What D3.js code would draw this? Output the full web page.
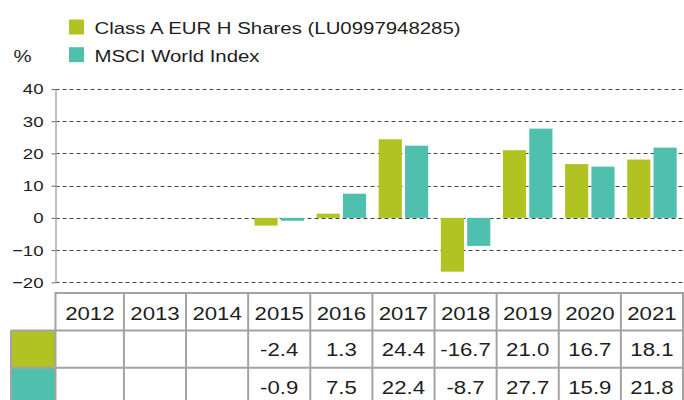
<!DOCTYPE html>
<html>
<head>
<meta charset="utf-8">
<script src="https://cdn.jsdelivr.net/npm/d3@7"></script>
<style>
    body { margin: 0; background: #fff; }
    svg { display: block; font-family: "Liberation Sans", Arial, sans-serif; }
</style>
</head>
<body>
<div id="chart"></div>
<script>
"use strict";

// data
const years = ["2012", "2013", "2014", "2015", "2016", "2017", "2018", "2019", "2020", "2021"];
const seriesNames = ["Class A EUR H Shares (LU0997948285)", "MSCI World Index"];
const classA = [null, null, null, -2.4, 1.3, 24.4, -16.7, 21.0, 16.7, 18.1];
const msciWorld = [null, null, null, -0.9, 7.5, 22.4, -8.7, 27.7, 15.9, 21.8];
const yTicks = [-20, -10, 0, 10, 20, 30, 40];
const seriesColors = ["#b0c322", "#4fbfae"];



// setting
const setting = {
    width: 684,
    height: 400,
    axisX: 55.5,
    plotLeft: 61.8,
    plotRight: 683,
    plotTop: 89,
    plotBottom: 282.3,
    tableTop: 293,
    rowHeight: 37.4,
    legendCellLeft: 11,
    borderColor: "#a3a3a3",
    stretch: 1.2,
    textColor: "#1e1e1e"
};



// data re arrange
const series = [classA, msciWorld];
const rows = years.map((y, i) => ({year: y, values: series.map(s => s[i])}));



// the source type is a wide grotesque; stretch the text horizontally
function placeText(sel, x, y) {
    sel.attr("x", 0)
    .attr("y", 0)
    .attr("transform", `translate(${x}, ${y}) scale(${setting.stretch}, 1)`);
    return sel;
}



// svg
let svg = d3.select("#chart")
.append("svg")
.attr("width", setting.width)
.attr("height", setting.height);



// legend
let legend = svg.append("g").attr("class", "legend");
seriesNames.forEach((name, i) => {
    legend.append("rect")
    .attr("x", 69)
    .attr("y", 19.5 + i * 27.7)
    .attr("width", 15)
    .attr("height", 15)
    .attr("fill", seriesColors[i]);
    legend.append("text")
    .call(placeText, 94.5, 34 + i * 27.7)
    .attr("font-size", 17)
    .attr("fill", setting.textColor)
    .text(name);
});

svg.append("text")
.call(placeText, 13.5, 61.7)
.attr("font-size", 17)
.attr("fill", setting.textColor)
.text("%");



// scales
let scaleY = d3.scaleLinear()
.domain([-20, 40])
.range([setting.plotBottom, setting.plotTop]);

let scaleX = d3.scaleBand()
.domain(years)
.range([setting.plotLeft, setting.plotRight]);

let scaleSeries = d3.scaleBand()
.domain(d3.range(series.length))
.range([0, scaleX.bandwidth()])
.paddingInner(0.12)
.paddingOuter(0.24);



// grid lines
svg.append("g")
.attr("class", "grid")
.selectAll("line")
.data(yTicks)
.enter()
.append("line")
.attr("x1", setting.axisX)
.attr("x2", setting.width)
.attr("y1", d => Math.round(scaleY(d)) + 0.5)
.attr("y2", d => Math.round(scaleY(d)) + 0.5)
.attr("stroke", "#444")
.attr("stroke-width", 1)
.attr("stroke-dasharray", "4,3");



// y axis
let yAxis = svg.append("g")
.attr("class", "y_axis")
.attr("transform", `translate(${setting.axisX}, 0)`)
.call(d3.axisLeft(scaleY).tickValues(yTicks).tickSize(4).tickPadding(8).tickSizeOuter(0));
yAxis.select(".domain").attr("stroke", "#aaa").attr("stroke-width", 1.5);
yAxis.selectAll(".tick line").attr("stroke", "#666");
yAxis.selectAll(".tick text")
.attr("font-family", "'Liberation Sans', Arial, sans-serif")
.attr("font-size", 15.5)
.attr("fill", setting.textColor)
.attr("x", -12 / setting.stretch)
.attr("transform", `scale(${setting.stretch}, 1)`);



// bars
svg.append("g")
.attr("class", "bars")
.selectAll("g")
.data(rows)
.enter()
.append("g")
.attr("transform", d => `translate(${scaleX(d.year)}, 0)`)
.selectAll("rect")
.data(d => d.values.map((v, k) => ({v: v, k: k})).filter(e => e.v !== null))
.enter()
.append("rect")
.attr("x", d => scaleSeries(d.k))
.attr("width", scaleSeries.bandwidth())
.attr("y", d => scaleY(Math.max(0, d.v)))
.attr("height", d => Math.abs(scaleY(d.v) - scaleY(0)))
.attr("fill", d => seriesColors[d.k]);



// table
let table = svg.append("g").attr("class", "table");
const rowTop = r => setting.tableTop + r * setting.rowHeight;

// colour cells
series.forEach((_, i) => {
    table.append("rect")
    .attr("x", setting.legendCellLeft)
    .attr("y", rowTop(i + 1))
    .attr("width", setting.axisX - setting.legendCellLeft)
    .attr("height", setting.rowHeight)
    .attr("fill", seriesColors[i]);
});

// header text
table.selectAll("text.year")
.data(years)
.enter()
.append("text")
.attr("class", "year")
.each(function(d) {
    d3.select(this).call(placeText, scaleX(d) + scaleX.bandwidth() / 2 + (d == years[0] ? -3 : 0), rowTop(0) + setting.rowHeight / 2 + 1.5);
})
.attr("text-anchor", "middle")
.attr("dominant-baseline", "central")
.attr("font-size", 18.5)
.attr("fill", setting.textColor)
.text(d => d);

// values text
series.forEach((s, i) => {
    table.selectAll(`text.val${i}`)
    .data(rows.filter(r => r.values[i] !== null))
    .enter()
    .append("text")
    .attr("class", `val${i}`)
    .each(function(d) {
        d3.select(this).call(placeText, scaleX(d.year) + scaleX.bandwidth() / 2, rowTop(i + 1) + setting.rowHeight / 2 + 1);
    })
    .attr("text-anchor", "middle")
    .attr("dominant-baseline", "central")
    .attr("font-size", 18.5)
    .attr("fill", setting.textColor)
    .text(d => d.values[i].toFixed(1));
});

// borders
const colEdges = [setting.axisX].concat(years.slice(1).map(y => scaleX(y)), [setting.plotRight]);
table.selectAll("line.v")
.data(colEdges)
.enter()
.append("line")
.attr("class", "v")
.attr("x1", d => d)
.attr("x2", d => d)
.attr("y1", rowTop(0))
.attr("y2", setting.height)
.attr("stroke", setting.borderColor)
.attr("stroke-width", 2);

table.selectAll("line.h")
.data([0, 1, 2])
.enter()
.append("line")
.attr("class", "h")
.attr("x1", d => d == 0 ? setting.axisX - 1 : setting.legendCellLeft)
.attr("x2", setting.plotRight + 1)
.attr("y1", d => rowTop(d))
.attr("y2", d => rowTop(d))
.attr("stroke", setting.borderColor)
.attr("stroke-width", 2);

table.append("line")
.attr("x1", setting.legendCellLeft)
.attr("x2", setting.legendCellLeft)
.attr("y1", rowTop(1))
.attr("y2", setting.height)
.attr("stroke", setting.borderColor)
.attr("stroke-width", 2);
</script>
</body>
</html>
